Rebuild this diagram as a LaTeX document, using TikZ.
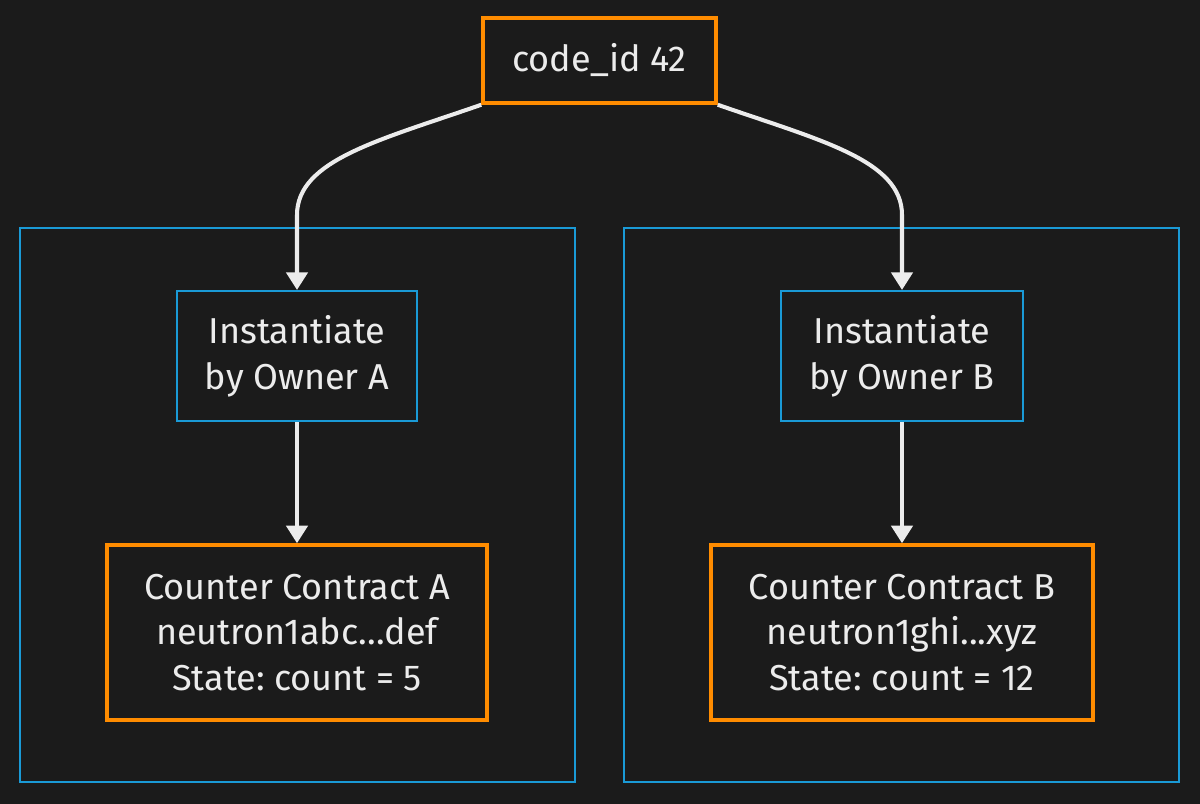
\documentclass[tikz,border=0pt]{standalone}
\usepackage{fontspec}
\setmainfont{Fira Sans}
\usetikzlibrary{arrows.meta}
\definecolor{bg}{HTML}{1B1B1B}
\definecolor{org}{HTML}{FF8C00}
\definecolor{blu}{HTML}{1A9AD6}
\definecolor{fg}{HTML}{ECECEC}
\frenchspacing
\begin{document}
\begin{tikzpicture}[x=0.02cm,y=-0.02cm,
  txt/.style={text=fg,font=\fontsize{20.5}{26}\selectfont,align=center,inner sep=0pt},
  onode/.style={txt,draw=org,line width=2pt,fill=bg},
  bnode/.style={txt,draw=blu,line width=1.2pt,fill=bg},
  clus/.style={draw=blu,line width=1.2pt},
  edge/.style={draw=fg,line width=2.3pt,-{Triangle[length=10pt,width=12pt]}}]
\fill[bg] (0,0) rectangle (1200,804);
\useasboundingbox (0,0) rectangle (1200,804);
\draw[clus] (20,228) rectangle (575,782);
\draw[clus] (624,228) rectangle (1179,782);
\node[onode,minimum width=4.66cm,minimum height=1.7cm] (top) at (599.5,60.5) {code\_id 42};
\node[bnode,minimum width=4.8cm,minimum height=2.6cm] (ia) at (297,356) {Instantiate\\by Owner A};
\node[bnode,minimum width=4.84cm,minimum height=2.6cm] (ib) at (902,356) {Instantiate\\by Owner B};
\node[onode,minimum width=7.6cm,minimum height=3.5cm] (ca) at (297,632.5) {Counter Contract A\\neutron1abc...def\\State: count = 5};
\node[onode,minimum width=7.64cm,minimum height=3.5cm] (cb) at (902,632.5) {Counter Contract B\\neutron1ghi...xyz\\State: count = 12};
\draw[edge] (top.south west) .. controls (380,140) and (297,160) .. (297,215) -- (ia.north);
\draw[edge] (top.south east) .. controls (819,140) and (902,160) .. (902,215) -- (ib.north);
\draw[edge] (ia) -- (ca);
\draw[edge] (ib) -- (cb);
\end{tikzpicture}
\end{document}
